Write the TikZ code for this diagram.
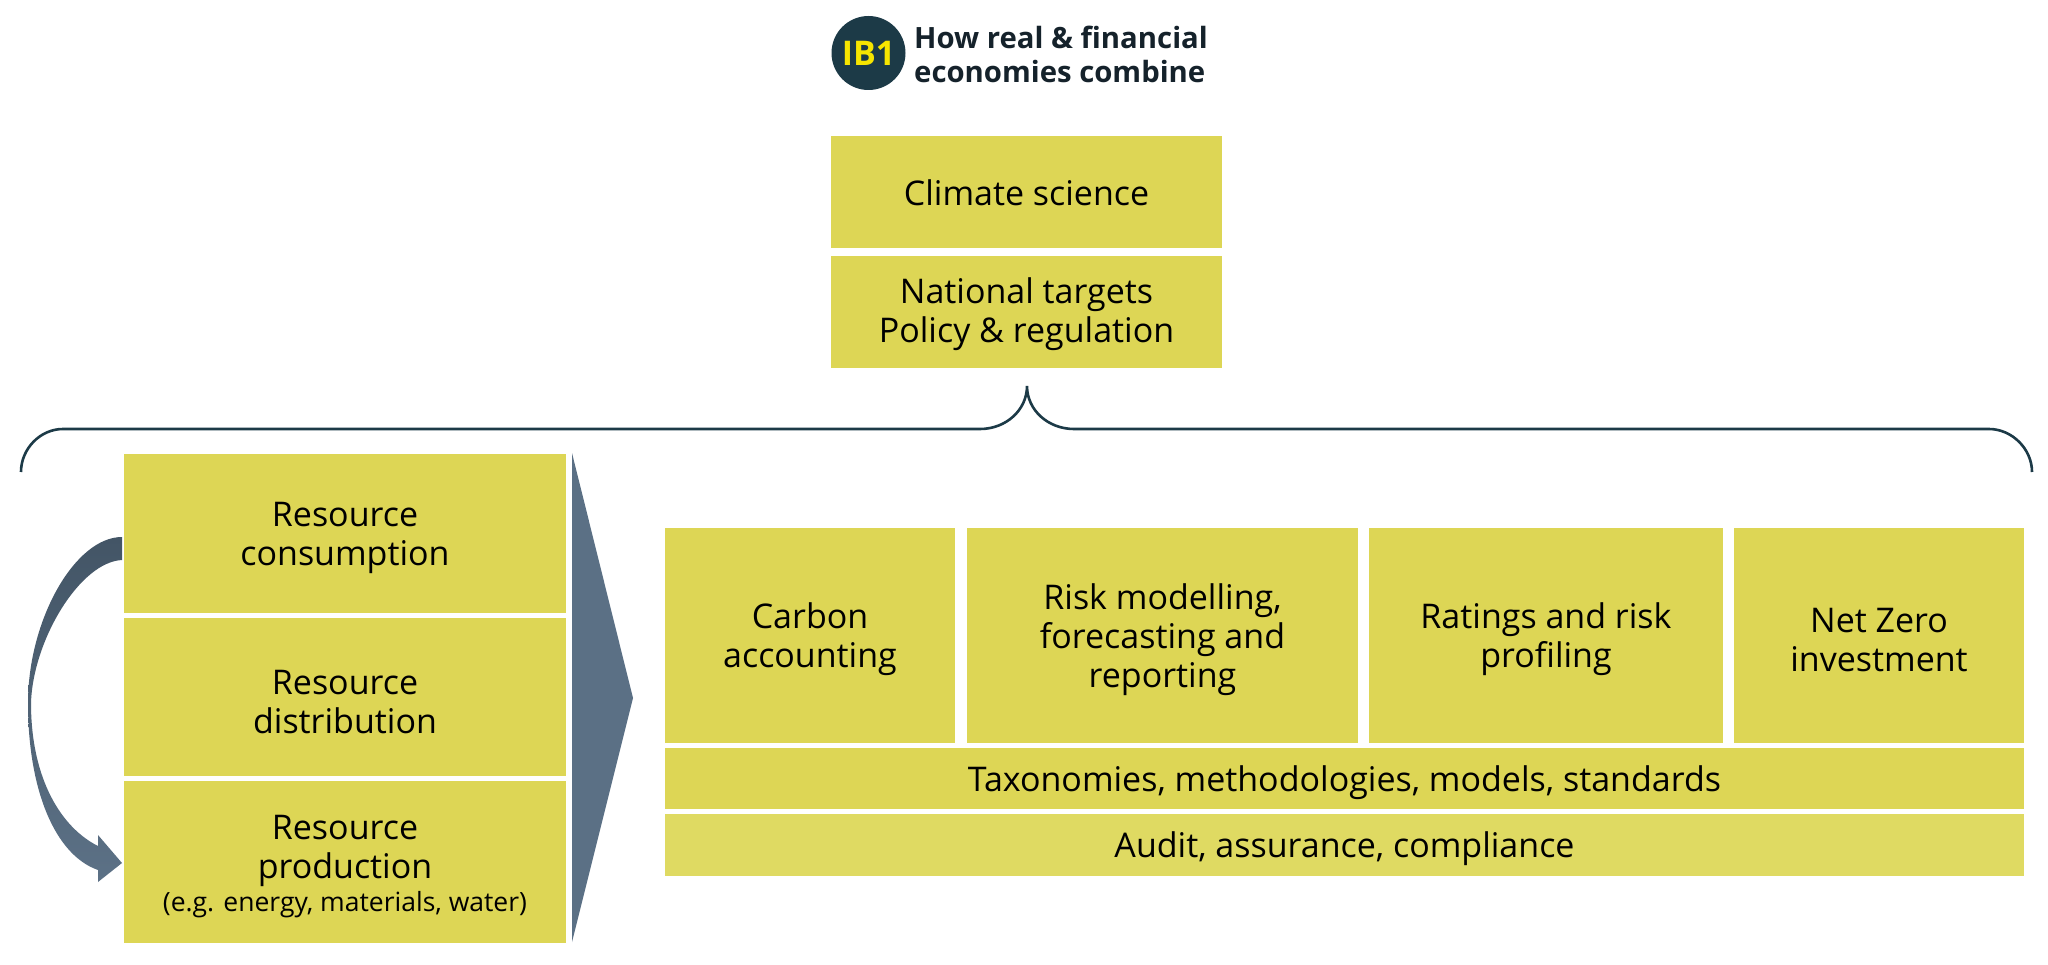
\documentclass[tikz,border=0pt]{standalone}
\usepackage{fontspec}
\setmainfont{Open Sans}
\definecolor{boxyellow}{HTML}{DDD655}
\definecolor{audityellow}{HTML}{DFDA62}
\definecolor{navy}{HTML}{1C3A47}
\definecolor{ibyellow}{HTML}{F7E500}
\definecolor{titlecol}{HTML}{15222B}
\definecolor{slate}{HTML}{5B7085}
\definecolor{arrowtop}{HTML}{435566}
\definecolor{arrowbot}{HTML}{5C7186}
\newcommand{\dnstrut}{\rule{0pt}{34pt}}
\begin{document}
\begin{tikzpicture}[x=1pt,y=-1pt,
  ybox/.style={fill=boxyellow, inner sep=0pt, align=center, text=black,
    font=\fontsize{34}{39}\selectfont},
  braceline/.style={draw=navy, line width=2.6pt}]
\useasboundingbox[fill=white] (0,0) rectangle (2048,965);

% header
\node[circle, fill=navy, minimum size=74pt, inner sep=0pt, text=ibyellow,
  font=\fontsize{34}{40}\selectfont\bfseries] (ib) at (868.5,53) {IB1};
\node[anchor=west, align=left, inner sep=0pt, text=titlecol,
  font=\fontsize{29.3}{34}\selectfont\bfseries] (title) at (914,54.5)
  {How real \& financial\\economies combine};

% top boxes
\node[ybox, minimum width=391pt, minimum height=112pt] (climate) at (1026.5,192) {\rule{0pt}{28pt}Climate science};
\node[ybox, minimum width=391pt, minimum height=112pt] (national) at (1026.5,312) {\rule{0pt}{30pt}National targets\\Policy \& regulation};

% brace
\draw[braceline] (21,472) .. controls (21,449) and (40,429) .. (63,429)
  -- (980,429) .. controls (1006,429) and (1027,410) .. (1027,386)
  .. controls (1027,410) and (1048,429) .. (1074,429)
  -- (1989,429) .. controls (2012,429) and (2032,449) .. (2032,472);

% left column
\node[ybox, minimum width=442pt, minimum height=159pt] (cons) at (345,533.5) {\dnstrut Resource\\consumption};
\node[ybox, minimum width=442pt, minimum height=158pt] (dist) at (345,697) {\dnstrut Resource\\distribution};
\node[ybox, minimum width=442pt, minimum height=162pt] (prod) at (345,862)
  {\dnstrut Resource\\production\\[-6pt]{\fontsize{26.5}{35}\selectfont (e.g. energy, materials, water)}};

% big chevron arrow
\fill[slate] (572,453) -- (633,698) -- (572,942) -- cycle;

% curved arrow
\shade[top color=arrowtop, bottom color=arrowbot]
  (122,537) .. controls (75,537) and (28,620) .. (28,703)
  .. controls (28,790) and (55,855) .. (98,870)
  -- (98,882) -- (122,863) -- (98,835) -- (98,846)
  .. controls (62,828) and (31,780) .. (31,703)
  .. controls (33,640) and (80,562) .. (122,560) -- cycle;

% right group
\node[ybox, minimum width=290pt, minimum height=215pt] (carbon) at (810,635.5) {\dnstrut Carbon\\accounting};
\node[ybox, minimum width=391pt, minimum height=215pt] (risk) at (1162.5,635.5) {\dnstrut Risk modelling,\\forecasting and\\reporting};
\node[ybox, minimum width=354pt, minimum height=215pt] (ratings) at (1546,635.5) {\dnstrut Ratings and risk\\profiling};
\node[ybox, minimum width=290pt, minimum height=215pt] (netzero) at (1879,635.5) {\dnstrut Net Zero\\investment};
\node[ybox, minimum width=1359pt, minimum height=61pt] (tax) at (1344.5,778.5) {\dnstrut Taxonomies, methodologies, models, standards};
\node[ybox, fill=audityellow, minimum width=1359pt, minimum height=62pt] (audit) at (1344.5,845) {\dnstrut Audit, assurance, compliance};
\end{tikzpicture}
\end{document}
